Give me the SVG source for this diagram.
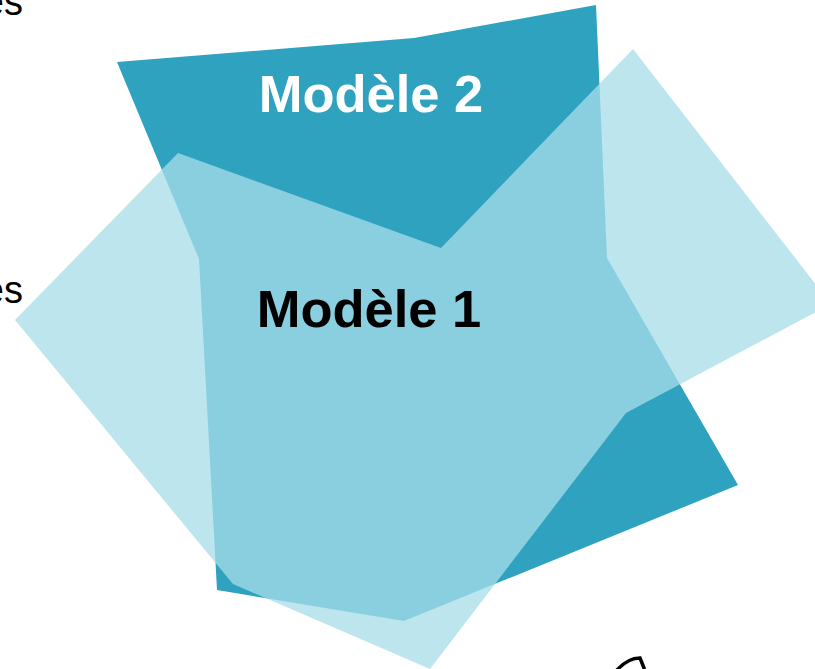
<svg xmlns="http://www.w3.org/2000/svg" width="815" height="669" viewBox="0 0 815 669">
<style>
.lbl{font-family:"Liberation Sans",Arial,sans-serif;font-weight:bold;font-size:52.5px;text-anchor:middle}
.frag{font-family:"Liberation Sans",Arial,sans-serif;font-size:38px;fill:#000;text-anchor:end}
</style>
<rect width="815" height="669" fill="#ffffff"/>
<g id="fragments">
<text class="frag" x="23" y="15">es</text>
<text class="frag" x="23" y="303">es</text>
<path d="M616,671 C624,662 632,658 640,658 L644,668" fill="none" stroke="#000" stroke-width="3.5" stroke-linecap="round"/>
</g>
<g id="modele2">
<polygon points="117,62 414,38 596,5 607,258 738,485 404,621 217,590 199,259" fill="#2ea2bf"/>
<text class="lbl" x="371" y="112" fill="#ffffff">Modèle 2</text>
</g>
<g id="modele1">
<polygon points="178,153 441,248 633,49 831,304 626,413 430,669 233,584 15,320" fill="#a7dde9" fill-opacity="0.765"/>
<text class="lbl" x="369" y="327" fill="#000000">Modèle 1</text>
</g>
</svg>
